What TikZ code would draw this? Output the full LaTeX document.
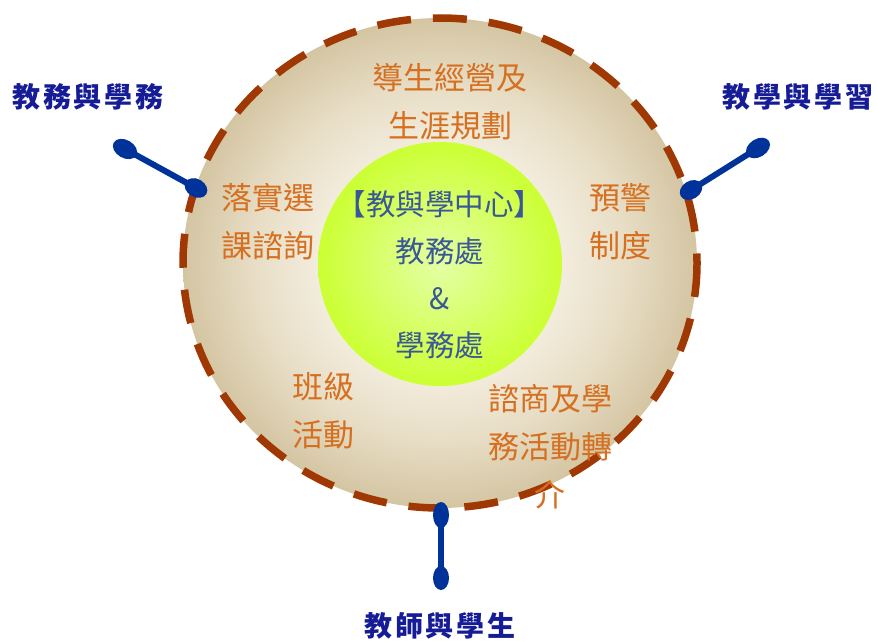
\documentclass[tikz,border=0pt]{standalone}
\usepackage{fontspec}
\newfontfamily\cjk{Noto Sans CJK TC}
\newfontfamily\cjkb{Noto Sans CJK TC}[LetterSpace=10]
\definecolor{rimbrown}{RGB}{160,56,4}
\definecolor{sandout}{RGB}{212,197,162}
\definecolor{sandmid}{RGB}{232,222,198}
\definecolor{sandin}{RGB}{246,241,228}
\definecolor{limeout}{RGB}{204,255,51}
\definecolor{limein}{RGB}{228,255,165}
\definecolor{orangetxt}{RGB}{214,112,32}
\definecolor{centertxt}{RGB}{58,88,150}
\definecolor{labelblue}{RGB}{22,28,150}
\definecolor{spoonblue}{RGB}{0,51,153}
\pgfdeclareradialshading{sanddisc}{\pgfpoint{0bp}{0bp}}{%
  color(0bp)=(sandin); color(10bp)=(sandin); color(18bp)=(sandmid); color(25bp)=(sandout); color(50bp)=(sandout)}
\begin{document}
\begin{tikzpicture}[x=1pt,y=-1pt,
  orangetext/.style={text=orangetxt,font=\cjk\fontsize{31}{48}\selectfont,align=center,inner sep=0pt},
  centertext/.style={text=centertxt,font=\cjk\fontsize{29.5}{47}\selectfont,align=center,inner sep=0pt},
  labeltext/.style={text=labelblue,font=\cjkb\bfseries\fontsize{28}{30}\selectfont,inner sep=0pt},
  spoonline/.style={draw=spoonblue,line width=6pt},
  spoonhead/.style={fill=spoonblue}]
\useasboundingbox (0,0) rectangle (877,642);
% outer disc
\shade[shading=sanddisc] (440,263) ellipse [x radius=257,y radius=245];
\draw[rimbrown,line width=7.5pt,dash pattern=on 34pt off 22pt] (440,263) ellipse [x radius=257,y radius=245];
% inner disc
\shade[inner color=limein,outer color=limeout] (440,264) circle [radius=122];
% spoons
\coordinate (l1) at (125,149); \coordinate (l2) at (196,188);
\coordinate (r1) at (758,148); \coordinate (r2) at (691,190);
\coordinate (b1) at (441,515); \coordinate (b2) at (441,578);
\draw[spoonline] (l1) -- (l2);
\draw[spoonline] (r1) -- (r2);
\draw[spoonline] (b1) -- (b2);
\fill[spoonhead,rotate around={-29.8:(l1)}] (l1) ellipse [x radius=13,y radius=9];
\fill[spoonhead,rotate around={-29.8:(l2)}] (l2) ellipse [x radius=12,y radius=9];
\fill[spoonhead,rotate around={32:(r1)}] (r1) ellipse [x radius=13,y radius=9];
\fill[spoonhead,rotate around={32:(r2)}] (r2) ellipse [x radius=12,y radius=9];
\fill[spoonhead] (b1) ellipse [x radius=8,y radius=13];
\fill[spoonhead] (b2) ellipse [x radius=8,y radius=12];
% orange texts
\node[orangetext] (t1) at (450,102) {導生經營及\\生涯規劃};
\node[orangetext] (t2) at (268,222) {落實選\\課諮詢};
\node[orangetext] (t3) at (620,222) {預警\\制度};
\node[orangetext] (t4) at (323,411) {班級\\活動};
\node[orangetext] (t5) at (550,447) {諮商及學\\務活動轉\\介};
% center text
\node[centertext] (c) at (440,275) {【教與學中心】\\教務處\\\&\\學務處};
% labels
\node[labeltext] (la) at (88,97) {教務與學務};
\node[labeltext] (lb) at (798,97) {教學與學習};
\node[labeltext] (lc) at (440,626) {教師與學生};
\end{tikzpicture}
\end{document}
